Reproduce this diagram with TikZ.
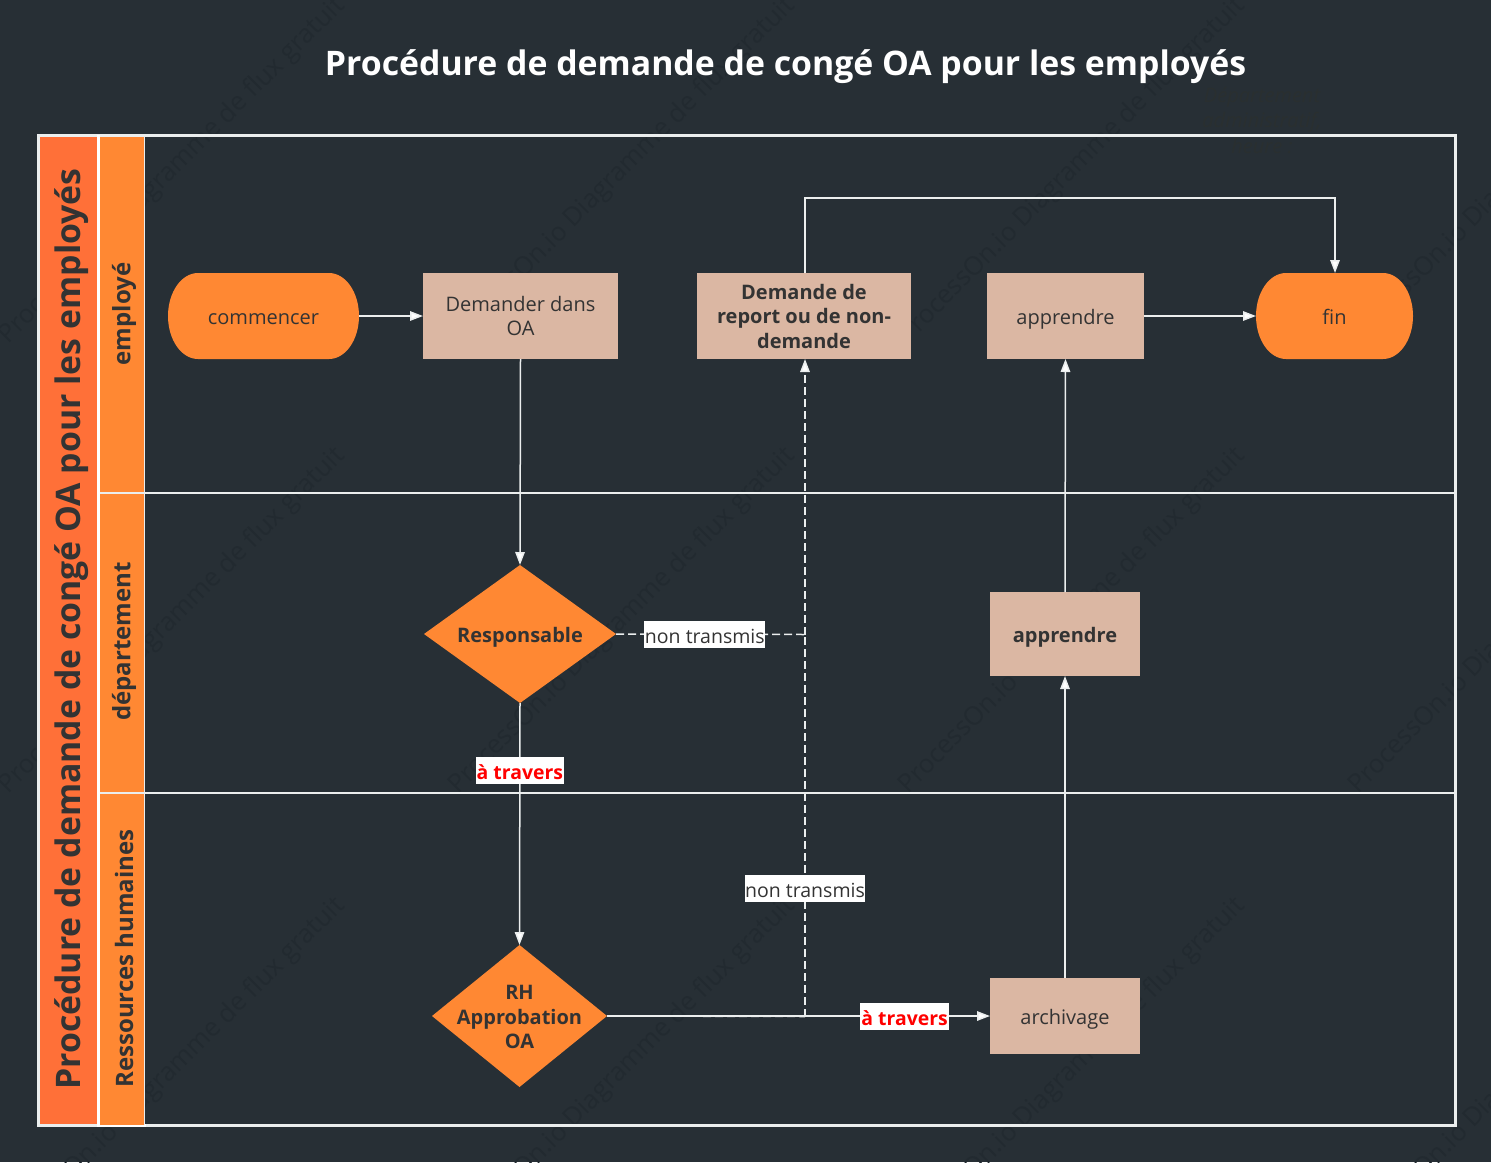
\documentclass[tikz,border=0pt]{standalone}
\usepackage{fontspec}
\setmainfont{Open Sans}
\usetikzlibrary{arrows.meta,shapes.geometric,calc}
\definecolor{bgc}{RGB}{39,47,53}
\definecolor{wmk}{RGB}{34,42,48}
\definecolor{ghost}{RGB}{42,47,48}
\definecolor{orng}{RGB}{255,136,51}
\definecolor{redor}{RGB}{255,112,56}
\definecolor{beige}{RGB}{219,183,163}
\definecolor{ink}{RGB}{51,51,51}
\definecolor{linew}{RGB}{235,238,238}
\tikzset{
 x=1pt,y=-1pt,
 every node/.style={inner sep=0pt,outer sep=0pt,text=ink,font=\fontsize{20}{24.5}\selectfont,align=center},
 oneline/.style={text height=20pt,text depth=4pt},
 multi/.style={yshift=-1pt},
 boldtext/.style={font=\fontsize{20}{24.5}\selectfont\bfseries},
 dec/.style={diamond,fill=orng,aspect=1.39},
 conn/.style={draw=linew,line width=1.5pt,-{Triangle[length=13pt,width=9.5pt,fill=white]}},
 plainline/.style={draw=linew,line width=1.5pt},
 dashline/.style={conn,dash pattern=on 8pt off 4pt},
 dashplain/.style={plainline,dash pattern=on 8pt off 4pt},
 tag/.style={fill=white,minimum height=27pt,text height=22pt,text depth=4pt,inner xsep=0.5pt,font=\fontsize{19.5}{24}\selectfont},
 tagred/.style={fill=white,minimum height=27pt,text height=21pt,text depth=3pt,inner xsep=1pt,text=red,font=\fontsize{19.4}{24}\selectfont\bfseries},
 lanelabel/.style={rotate=90,font=\fontsize{24}{28}\selectfont\bfseries},
 wm/.style={text=wmk,rotate=45,font=\fontsize{25.7}{30}\selectfont},
 pill/.style={minimum height=86pt},
}
\newcommand{\pillshape}[1]{%
 \fill[orng] (#1.west) arc[start angle=180,end angle=90,x radius=30pt,y radius=43pt]
  -- ([xshift=-30pt]#1.north east) arc[start angle=90,end angle=-90,x radius=30pt,y radius=43pt]
  -- ([xshift=30pt]#1.south west) arc[start angle=270,end angle=180,x radius=30pt,y radius=43pt] -- cycle;}
\begin{document}
\begin{tikzpicture}
\fill[bgc] (0,0) rectangle (1491,1162);
\useasboundingbox (0,0) rectangle (1491,1162);
% watermark tiles
\foreach \cx in {172,622,1072,1522}{\foreach \cy in {171,621,1071}{
  \node[wm] at (\cx,\cy) {ProcessOn.io Diagramme de flux gratuit};
}}
\node (title) [text=white,font=\fontsize{33.8}{40}\selectfont\bfseries] at (785.5,67) {Procédure de demande de congé OA pour les employés};
% frame
\node (frame) [draw=linew,line width=3pt,minimum width=1417pt,minimum height=990pt,anchor=north west] at (38,135) {};
\fill[white] (97,135) rectangle (100,1127);
\fill[white] (98,1124) rectangle (146,1127);
\node (lanetitle) [fill=redor,minimum width=57pt,minimum height=987pt,anchor=north west] at (40,136.5) {};
\node (lane1) [fill=orng,minimum width=44pt,minimum height=356pt,anchor=north west] at (100,137) {};
\node (lane2) [fill=orng,minimum width=44pt,minimum height=300pt,anchor=north west] at (100,493) {};
\node (lane3) [fill=orng,minimum width=44pt,minimum height=332pt,anchor=north west] at (100,793) {};
\coordinate (vtop) at (144.5,135);
\coordinate (vbot) at (144.5,1125);
\draw[plainline] (vtop) -- (vbot);
\coordinate (l1a) at (100,493); \coordinate (l1b) at (1455,493);
\coordinate (l2a) at (100,793); \coordinate (l2b) at (1455,793);
\draw[plainline] (l1a) -- (l1b);
\draw[plainline] (l2a) -- (l2b);
\node (ghosttext) [text=ghost,font=\fontsize{20}{25.5}\selectfont\itshape] at (1262,120) {Département\\administratif,\\heure :};
\node (maintitle) [rotate=90,font=\fontsize{33.8}{40}\selectfont\bfseries] at (72,629) {Procédure de demande de congé OA pour les employés};
\node (emp) [lanelabel] at (124,314) {employé};
\node (dep) [lanelabel] at (124,641.5) {département};
\node (rhl) [lanelabel] at (124,958.5) {Ressources humaines};
% shapes
\node (start) [pill,minimum width=191pt] at (263.5,316) {};
\pillshape{start}
\node (starttext) [oneline] at (start.center) {commencer};
\node (ask) [fill=beige,minimum width=195pt,minimum height=86pt,multi] at (520.5,315) {Demander dans\\OA};
\node (report) [fill=beige,minimum width=214pt,minimum height=86pt,boldtext] at (804,316) {Demande de\\report ou de non-\\demande};
\node (learn) [fill=beige,minimum width=157pt,minimum height=86pt,oneline] at (1065.5,316) {apprendre};
\node (fin) [pill,minimum width=157pt] at (1334.5,316) {};
\pillshape{fin}
\node (fintext) [oneline] at (fin.center) {fin};
\node (resp) [dec,minimum width=192pt,minimum height=138pt] at (520,634) {};
\node (resptext) at (resp.center) [boldtext,text height=20pt,text depth=4pt] {Responsable};
\node (learn2) [fill=beige,minimum width=150pt,minimum height=84pt,boldtext,text height=20pt,text depth=4pt] at (1065,634) {apprendre};
\node (rh) [dec,minimum width=175pt,minimum height=142pt,aspect=1.23] at (519.5,1016) {};
\node (rhtext) at ([yshift=-1pt]rh.center) [boldtext] {RH\\Approbation\\OA};
\node (arch) [fill=beige,minimum width=150pt,minimum height=76pt,text height=20pt,text depth=4pt] at (1065,1016) {archivage};
% connectors
\draw[conn] (start.east) -- (ask.west);
\draw[conn] (ask.south) -- (resp.north);
\draw[conn] (resp.south) -- node[tagred,pos=0.277] (t1) {à travers} (rh.north);
\coordinate (j1) at (805,634.5);
\coordinate (j2) at (805,1016.5);
\coordinate (reportin) at (805,359);
\draw[dashplain] (resp.east) -- node[tag,pos=0.47] (t2) {non transmis} (j1);
\draw[dashline] (j1) -- (reportin);
\draw[dashplain] (j2) -- node[tag,pos=0.335] (t3) {non transmis} (j1);
\draw[conn] (rh.east) -- node[tagred,pos=0.777] (t4) {à travers} (arch.west);
\draw[dashplain] (rh.east) -- (j2);
\draw[conn] (arch.north) -- (learn2.south);
\draw[conn] (learn2.north) -- (learn.south);
\draw[conn] (learn.east) -- (fin.west);
\coordinate (c1) at (805,198);
\coordinate (c2) at (1335,198);
\coordinate (reportout) at (805,273);
\coordinate (finin) at (1335,273);
\draw[conn] (reportout) -- (c1) -- (c2) -- (finin);
\end{tikzpicture}
\end{document}
